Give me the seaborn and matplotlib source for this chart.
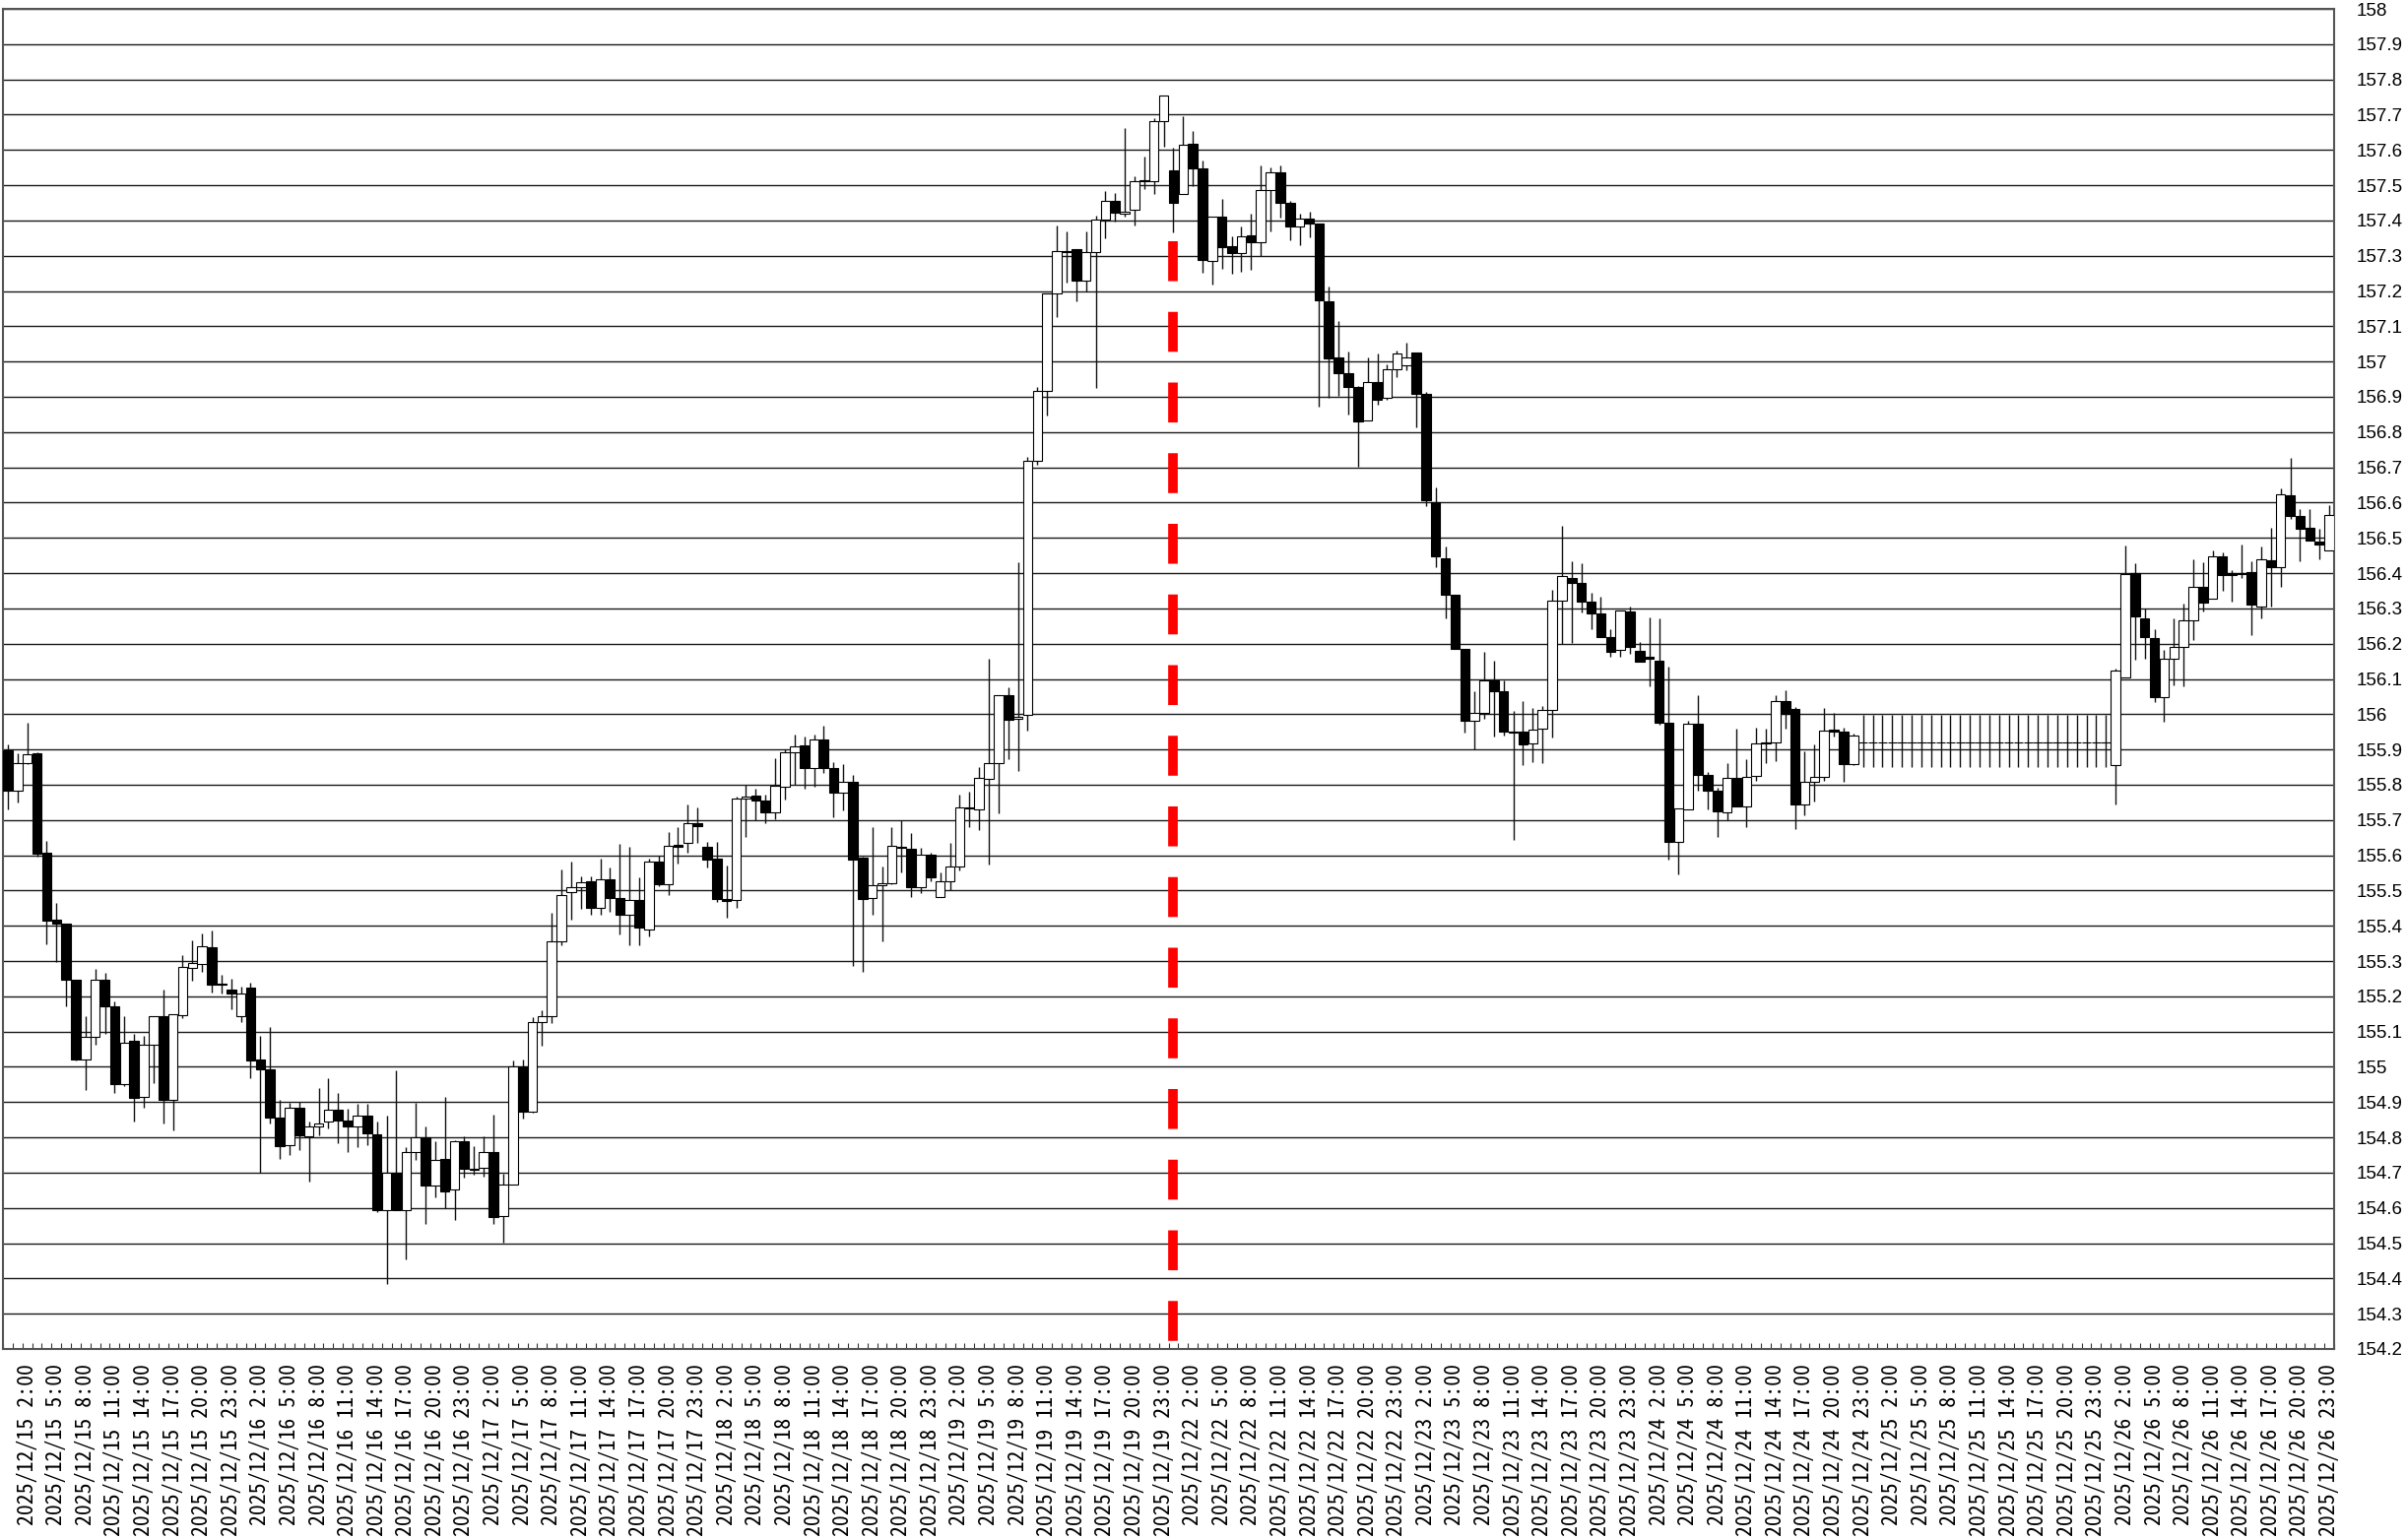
import matplotlib
matplotlib.use("Agg")
import matplotlib.pyplot as plt
from matplotlib import font_manager
import numpy as np
import seaborn as sns

# hourly USD/JPY style candles, 12/15 - 12/26 (weekend skipped)
days = ["2025/12/15", "2025/12/16", "2025/12/17", "2025/12/18", "2025/12/19",
        "2025/12/22", "2025/12/23", "2025/12/24", "2025/12/25", "2025/12/26"]
hours = [0, 1, 2, 3, 4, 5, 6, 7, 8, 9, 10, 11, 12, 13, 14, 15, 16, 17, 18, 19, 20, 21, 22, 23]

open_ = [
    155.897, 155.783, 155.860, 155.889, 155.607, 155.416, 155.407, 155.247, 155.020, 155.084,
    155.248, 155.172, 154.951, 155.074, 154.915, 155.062, 155.144, 154.907, 155.146, 155.281,
    155.292, 155.340, 155.234, 155.218, 155.143, 155.225, 155.020, 154.993, 154.855, 154.777,
    154.883, 154.802, 154.830, 154.844, 154.879, 154.847, 154.831, 154.862, 154.808, 154.594,
    154.700, 154.593, 154.758, 154.800, 154.664, 154.740, 154.651, 154.788, 154.712, 154.715,
    154.758, 154.576, 154.665, 155.002, 154.873, 155.127, 155.145, 155.355, 155.495, 155.509,
    155.526, 155.450, 155.532, 155.480, 155.430, 155.472, 155.390, 155.581, 155.518, 155.630,
    155.636, 155.690, 155.623, 155.591, 155.475, 155.473, 155.762, 155.769, 155.755, 155.723,
    155.795, 155.892, 155.911, 155.847, 155.927, 155.847, 155.778, 155.807, 155.594, 155.478,
    155.515, 155.520, 155.622, 155.617, 155.509, 155.603, 155.482, 155.525, 155.569, 155.733,
    155.731, 155.816, 155.862, 156.054, 155.986, 155.999, 156.718, 156.917, 157.192, 157.310,
    157.318, 157.229, 157.310, 157.402, 157.456, 157.420, 157.430, 157.512, 157.512, 157.682,
    157.543, 157.476, 157.618, 157.549, 157.285, 157.410, 157.328, 157.307, 157.358, 157.337,
    157.487, 157.536, 157.451, 157.384, 157.406, 157.392, 157.170, 157.013, 156.968, 156.929,
    156.832, 156.941, 156.896, 156.977, 156.989, 157.025, 156.908, 156.602, 156.441, 156.340,
    156.185, 155.982, 156.004, 156.097, 156.065, 155.951, 155.951, 155.916, 155.958, 156.013,
    156.323, 156.387, 156.373, 156.319, 156.286, 156.220, 156.181, 156.291, 156.179, 156.162,
    156.153, 155.976, 155.639, 155.730, 155.972, 155.827, 155.783, 155.722, 155.820, 155.739,
    155.825, 155.918, 155.920, 156.037, 156.014, 155.743, 155.808, 155.822, 155.957, 155.951,
    155.858, 155.920, 155.920, 155.920, 155.920, 155.920, 155.920, 155.920, 155.920, 155.920,
    155.920, 155.920, 155.920, 155.920, 155.920, 155.920, 155.920, 155.920, 155.920, 155.920,
    155.920, 155.920, 155.920, 155.920, 155.920, 155.920, 155.920, 155.857, 156.104, 156.399,
    156.271, 156.217, 156.048, 156.157, 156.190, 156.267, 156.362, 156.327, 156.448, 156.399,
    156.396, 156.404, 156.304, 156.436, 156.417, 156.620, 156.562, 156.529, 156.490, 156.464,
]

high = [
    155.913, 155.890, 155.977, 155.893, 155.642, 155.465, 155.407, 155.247, 155.143, 155.278,
    155.267, 155.186, 155.144, 155.093, 155.087, 155.144, 155.218, 155.149, 155.316, 155.360,
    155.379, 155.388, 155.260, 155.250, 155.228, 155.239, 155.087, 155.113, 154.907, 154.898,
    154.901, 154.846, 154.940, 154.969, 154.927, 154.881, 154.895, 154.895, 154.844, 154.862,
    154.991, 154.771, 154.898, 154.830, 154.790, 154.915, 154.793, 154.802, 154.774, 154.802,
    154.864, 154.697, 155.019, 155.022, 155.141, 155.160, 155.437, 155.560, 155.583, 155.541,
    155.540, 155.590, 155.565, 155.633, 155.625, 155.537, 155.590, 155.600, 155.666, 155.681,
    155.744, 155.737, 155.637, 155.639, 155.572, 155.766, 155.799, 155.788, 155.772, 155.876,
    155.900, 155.943, 155.937, 155.943, 155.967, 155.865, 155.858, 155.828, 155.596, 155.681,
    155.569, 155.679, 155.700, 155.663, 155.622, 155.606, 155.550, 155.634, 155.771, 155.779,
    155.849, 156.156, 156.054, 156.075, 156.430, 156.730, 156.928, 157.192, 157.386, 157.370,
    157.320, 157.370, 157.414, 157.483, 157.478, 157.661, 157.524, 157.580, 157.689, 157.755,
    157.605, 157.696, 157.654, 157.569, 157.410, 157.460, 157.355, 157.384, 157.420, 157.557,
    157.551, 157.557, 157.455, 157.420, 157.424, 157.392, 157.213, 157.114, 157.028, 156.932,
    157.013, 157.022, 156.993, 157.031, 157.053, 157.025, 156.913, 156.644, 156.475, 156.340,
    156.185, 156.064, 156.176, 156.153, 156.097, 156.009, 156.037, 156.018, 156.023, 156.353,
    156.533, 156.434, 156.427, 156.344, 156.334, 156.241, 156.294, 156.304, 156.204, 156.274,
    156.272, 156.136, 155.733, 155.981, 156.055, 155.837, 155.792, 155.860, 155.958, 155.872,
    155.962, 155.960, 156.053, 156.067, 156.020, 155.895, 155.913, 156.018, 156.004, 155.963,
    155.944, 155.999, 155.999, 155.999, 155.999, 155.999, 155.999, 155.999, 155.999, 155.999,
    155.999, 155.999, 155.999, 155.999, 155.999, 155.999, 155.999, 155.999, 155.999, 155.999,
    155.999, 155.999, 155.999, 155.999, 155.999, 155.999, 155.999, 156.129, 156.479, 156.427,
    156.301, 156.240, 156.183, 156.273, 156.313, 156.439, 156.432, 156.464, 156.460, 156.408,
    156.482, 156.434, 156.476, 156.529, 156.640, 156.727, 156.581, 156.581, 156.525, 156.594,
]

low = [
    155.729, 155.749, 155.858, 155.597, 155.348, 155.298, 155.171, 155.018, 154.935, 155.062,
    155.093, 154.926, 154.946, 154.846, 154.883, 154.953, 154.839, 154.820, 155.137, 155.244,
    155.270, 155.211, 155.207, 155.162, 155.127, 154.969, 154.700, 154.839, 154.740, 154.750,
    154.765, 154.674, 154.805, 154.825, 154.783, 154.758, 154.771, 154.779, 154.588, 154.383,
    154.593, 154.453, 154.737, 154.555, 154.630, 154.600, 154.565, 154.686, 154.695, 154.690,
    154.555, 154.501, 154.665, 154.853, 154.870, 155.060, 155.123, 155.346, 155.416, 155.448,
    155.430, 155.430, 155.440, 155.376, 155.346, 155.346, 155.369, 155.513, 155.486, 155.577,
    155.607, 155.634, 155.565, 155.467, 155.423, 155.450, 155.651, 155.698, 155.690, 155.701,
    155.757, 155.800, 155.788, 155.793, 155.834, 155.709, 155.727, 155.287, 155.270, 155.430,
    155.355, 155.517, 155.550, 155.482, 155.493, 155.525, 155.482, 155.501, 155.558, 155.679,
    155.671, 155.574, 155.720, 155.873, 155.840, 155.954, 156.706, 156.847, 157.127, 157.224,
    157.171, 157.200, 156.925, 157.349, 157.397, 157.410, 157.386, 157.490, 157.475, 157.608,
    157.365, 157.476, 157.497, 157.251, 157.219, 157.263, 157.249, 157.255, 157.261, 157.300,
    157.370, 157.409, 157.343, 157.331, 157.352, 156.872, 156.896, 156.902, 156.850, 156.702,
    156.832, 156.877, 156.892, 156.956, 156.974, 156.814, 156.590, 156.417, 156.272, 156.185,
    155.949, 155.901, 155.986, 155.937, 155.939, 155.644, 155.855, 155.865, 155.860, 155.934,
    156.200, 156.201, 156.288, 156.241, 156.220, 156.162, 156.162, 156.170, 156.148, 156.079,
    155.969, 155.587, 155.546, 155.730, 155.783, 155.730, 155.653, 155.699, 155.739, 155.679,
    155.811, 155.860, 155.867, 155.960, 155.674, 155.713, 155.751, 155.811, 155.937, 155.808,
    155.856, 155.850, 155.850, 155.850, 155.850, 155.850, 155.850, 155.850, 155.850, 155.850,
    155.850, 155.850, 155.850, 155.850, 155.850, 155.850, 155.850, 155.850, 155.850, 155.850,
    155.850, 155.850, 155.850, 155.850, 155.850, 155.850, 155.850, 155.744, 156.104, 156.155,
    156.157, 156.034, 155.978, 156.082, 156.079, 156.209, 156.290, 156.327, 156.350, 156.320,
    156.386, 156.225, 156.273, 156.306, 156.360, 156.553, 156.434, 156.492, 156.439, 156.464,
]

close = [
    155.783, 155.862, 155.887, 155.605, 155.415, 155.406, 155.247, 155.020, 155.084, 155.248,
    155.172, 154.951, 155.067, 154.913, 155.062, 155.144, 154.907, 155.149, 155.283, 155.295,
    155.341, 155.234, 155.236, 155.209, 155.208, 155.019, 154.993, 154.855, 154.774, 154.883,
    154.805, 154.830, 154.839, 154.879, 154.847, 154.831, 154.862, 154.811, 154.594, 154.700,
    154.593, 154.758, 154.800, 154.664, 154.737, 154.648, 154.788, 154.712, 154.708, 154.758,
    154.574, 154.667, 155.002, 154.873, 155.127, 155.145, 155.355, 155.486, 155.509, 155.523,
    155.450, 155.532, 155.480, 155.430, 155.472, 155.396, 155.581, 155.518, 155.627, 155.625,
    155.690, 155.683, 155.588, 155.476, 155.471, 155.762, 155.766, 155.755, 155.721, 155.797,
    155.892, 155.909, 155.847, 155.927, 155.847, 155.778, 155.807, 155.588, 155.476, 155.515,
    155.520, 155.626, 155.624, 155.509, 155.603, 155.538, 155.525, 155.569, 155.736, 155.737,
    155.820, 155.862, 156.054, 155.983, 155.992, 156.718, 156.917, 157.192, 157.313, 157.314,
    157.229, 157.310, 157.402, 157.456, 157.423, 157.426, 157.512, 157.515, 157.682, 157.755,
    157.451, 157.615, 157.549, 157.288, 157.410, 157.324, 157.307, 157.355, 157.337, 157.487,
    157.536, 157.451, 157.384, 157.406, 157.392, 157.173, 157.010, 156.968, 156.929, 156.829,
    156.941, 156.892, 156.977, 157.023, 157.013, 156.908, 156.608, 156.447, 156.340, 156.185,
    155.982, 156.004, 156.097, 156.065, 155.951, 155.949, 155.914, 155.956, 156.013, 156.323,
    156.393, 156.373, 156.319, 156.286, 156.220, 156.178, 156.293, 156.190, 156.148, 156.158,
    155.976, 155.639, 155.733, 155.972, 155.827, 155.783, 155.725, 155.820, 155.739, 155.823,
    155.918, 155.921, 156.037, 156.002, 155.743, 155.808, 155.822, 155.953, 155.952, 155.858,
    155.940, 155.920, 155.920, 155.920, 155.920, 155.920, 155.920, 155.920, 155.920, 155.920,
    155.920, 155.920, 155.920, 155.920, 155.920, 155.920, 155.920, 155.920, 155.920, 155.920,
    155.920, 155.920, 155.920, 155.920, 155.920, 155.920, 155.920, 156.125, 156.397, 156.276,
    156.218, 156.048, 156.157, 156.190, 156.267, 156.362, 156.315, 156.448, 156.395, 156.394,
    156.401, 156.311, 156.439, 156.418, 156.623, 156.562, 156.527, 156.492, 156.480, 156.566,
]

y_ticks = [154.2, 154.3, 154.4, 154.5, 154.6, 154.7, 154.8, 154.9, 155.0, 155.1,
           155.2, 155.3, 155.4, 155.5, 155.6, 155.7, 155.8, 155.9, 156.0, 156.1,
           156.2, 156.3, 156.4, 156.5, 156.6, 156.7, 156.8, 156.9, 157.0, 157.1,
           157.2, 157.3, 157.4, 157.5, 157.6, 157.7, 157.8, 157.9, 158.0]

# red marker: weekend boundary (12/22 0:00 bar), drawn below the bar's low
marker_index = 120
marker_top = 157.34

assert len(open_) == len(high) == len(low) == len(close) == 240


def pick_font(names):
    for name in names:
        try:
            font_manager.findfont(font_manager.FontProperties(family=name), fallback_to_default=False)
            return name
        except ValueError:
            continue
    return "DejaVu Sans Mono"


sns.set_theme(style="white")
plt.rcParams['font.family'] = ['Liberation Sans', 'DejaVu Sans']

# monospaced gothic for the date labels if we have it
mono = pick_font(["Noto Sans Mono CJK JP", "Noto Sans Mono CJK SC", "DejaVu Sans Mono"])
mono_size = 15.8 if "CJK" in mono else 13.2

timestamps = [f"{d} {h}:00" for d in days for h in hours]
x = np.arange(len(open_))
o = np.array(open_)
h = np.array(high)
l = np.array(low)
c = np.array(close)
up = c >= o

fig = plt.figure(figsize=(24.43, 15.64), dpi=100)
ax = fig.add_axes([3 / 2443, 1 - 1370 / 1564, 2367 / 2443, 1361 / 1564])
ax.set_facecolor("white")

# wicks then bodies
ax.vlines(x, l, h, color="#111111", lw=1.0, zorder=2)
ax.bar(x, np.abs(c - o), bottom=np.minimum(o, c), width=0.96,
       color=np.where(up, "white", "black"), edgecolor="black", linewidth=0.8, zorder=3)

ax.plot([marker_index, marker_index], [marker_top, 154.2], color="#ff0000", lw=7,
        dashes=(4.17, 3.21), dash_capstyle="butt", zorder=4, clip_on=True)

ax.set_xlim(-0.5, len(x) - 0.5)
ax.set_ylim(154.2, 158.0)

# horizontal grid
ax.set_yticks(y_ticks)
ax.set_yticklabels([f"{v:g}" for v in y_ticks])
ax.yaxis.tick_right()
ax.grid(axis="y", color="#1a1a1a", lw=1.0)
ax.grid(axis="x", visible=False)
ax.set_axisbelow(True)
ax.tick_params(axis="y", which="both", length=0, pad=16, labelsize=13.5, labelcolor="black")

tick_pos = x[2::3]
ax.set_xticks(tick_pos)
ax.set_xticklabels([timestamps[i] for i in tick_pos], rotation=90,
                   family=[mono, "DejaVu Sans Mono"], fontsize=mono_size)
ax.set_xticks(np.arange(-0.5, len(x), 1), minor=True)
ax.tick_params(axis="x", which="major", length=0, pad=11, labelcolor="black")
ax.tick_params(axis="x", which="minor", direction="in", length=4.3, width=0.8,
               color="#333333", bottom=True)

for s in ax.spines.values():
    s.set_color("#555555")
    s.set_linewidth(1.5)
    s.set_visible(True)

fig.savefig("out.png", dpi=100)
